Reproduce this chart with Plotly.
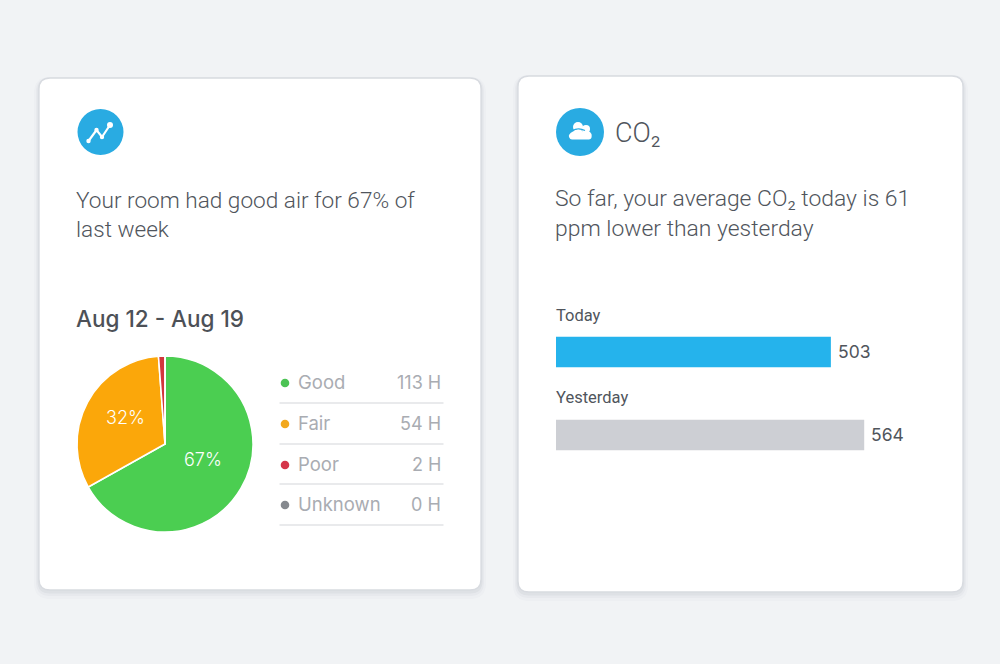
import plotly.graph_objects as go

W, H = 1000, 664
BG = "#f1f3f5"
FONT = "Inter, Roboto, sans-serif"
BODY_FONT = "Roboto, Inter, sans-serif"
TEXT = "#50555c"

# Data
pie_labels = ["Good", "Fair", "Poor", "Unknown"]
pie_hours = [113, 54, 2, 0]
pie_colors = ["#4bce51", "#fba70a", "#d2363c", "#868b90"]
legend_hours = ["113 H", "54 H", "2 H", "0 H"]
legend_dots = ["#4cc354", "#f2a81d", "#d5354a", "#85898e"]
bar_labels = ["Today", "Yesterday"]
bar_values = [503, 564]
bar_colors = ["#25b3ec", "#cdcfd4"]

def px(x): return x / W
def py(y): return 1 - y / H

def rrect(x0, y0, x1, y1, r):
    a, b, c, d = px(x0), px(x1), py(y0), py(y1)
    rx, ry = r / W, r / H
    return (f"M{a+rx},{c} L{b-rx},{c} Q{b},{c} {b},{c-ry} L{b},{d+ry} Q{b},{d} {b-rx},{d} "
            f"L{a+rx},{d} Q{a},{d} {a},{d+ry} L{a},{c-ry} Q{a},{c} {a+rx},{c} Z")

def poly(points, close=False):
    s = "M" + " L".join(f"{px(x)},{py(y)}" for x, y in points)
    return s + (" Z" if close else "")

shapes = []
def add_path(path, fill=None, line=None, width=0, opacity=1):
    shapes.append(dict(type="path", xref="paper", yref="paper", path=path, layer="below",
                       fillcolor=fill or "rgba(0,0,0,0)", opacity=opacity,
                       line=dict(color=line or "rgba(0,0,0,0)", width=width)))

def add_circle(cx, cy, r, fill):
    shapes.append(dict(type="circle", xref="paper", yref="paper", layer="below",
                       x0=px(cx - r), x1=px(cx + r), y0=py(cy + r), y1=py(cy - r),
                       fillcolor=fill, line=dict(width=0)))

# Cards with soft shadows
for (x0, y0, x1, y1) in [(39, 78, 481, 590), (518, 76, 963, 592)]:
    for grow, dy, op in [(5, 4, 0.02), (3, 3, 0.03), (1.5, 2, 0.05)]:
        add_path(rrect(x0 - grow, y0 - grow + dy, x1 + grow, y1 + grow + dy, 11 + grow), fill="#3c4a5a", opacity=op)
    add_path(rrect(x0, y0, x1, y1, 11), fill="#ffffff", line="#d8dbe0", width=1.3)

# Icons
add_circle(100.5, 132, 23, "#29abe2")
add_circle(580, 132, 24, "#29abe2")
add_path(poly([(88.5, 141), (96.5, 130), (102, 137), (110, 125)]), line="#ffffff", width=2.2)
for cx, cy, r in [(88.5, 141, 2.2), (96.5, 130, 2.2), (102, 137, 2.2), (110, 125, 3)]:
    add_circle(cx, cy, r, "#ffffff")
# Cloud icon
add_circle(578, 127, 5, "#ffffff")
add_circle(586, 129, 4, "#ffffff")
add_path(f"M{px(572)},{py(131)} Q{px(578)},{py(127)} {px(585)},{py(130.5)}", line="#29abe2", width=1.2)
add_path(f"M{px(572)},{py(139.5)} L{px(589)},{py(139.5)} Q{px(592.5)},{py(139)} {px(591.5)},{py(134)} "
         f"Q{px(590)},{py(130)} {px(584)},{py(132)} Q{px(578)},{py(128)} {px(573)},{py(131.5)} "
         f"Q{px(568)},{py(134)} {px(569)},{py(137)} Q{px(570)},{py(139.5)} {px(572)},{py(139.5)} Z", fill="#ffffff")

# Legend rules
rule_ys = [403, 444, 484, 525]
for y in rule_ys:
    add_path(poly([(279.5, y), (443.5, y)]), line="#e2e3e6", width=1.6)

# Legend dots
row_ys = [383, 424, 465, 505]
for y, c in zip(row_ys, legend_dots):
    add_circle(285, y, 4.3, c)

annotations = []
def note(x, y, text, size, color=TEXT, anchor="left", weight=300, family=FONT):
    annotations.append(dict(xref="paper", yref="paper", x=px(x), y=py(y), text=text, showarrow=False,
                            xanchor=anchor, yanchor="middle", align=anchor,
                            font=dict(family=family, size=size, color=color, weight=weight),
                            borderpad=0, borderwidth=0))

note(76, 214.5, "Your room had good air for 67% of<br>last week", 22.6, family=BODY_FONT)
note(555, 213.5, "So far, your average CO₂ today is 61<br>ppm lower than yesterday", 22.9, family=BODY_FONT)
note(615, 132.5, "CO₂", 27, family=BODY_FONT)
note(75.5, 318, "Aug 12 - Aug 19", 22.5, color="#4d5157", weight=500)
note(556, 315.5, bar_labels[0], 16.5, weight=400, family=BODY_FONT)
note(556, 397.5, bar_labels[1], 16.5, weight=400, family=BODY_FONT)
for y, label, hours in zip(row_ys, pie_labels, legend_hours):
    note(298, y - 1, label, 18.5, color="#a9acb2", weight=400)
    note(441, y - 1, hours, 18, color="#a9acb2", anchor="right", weight=400)

# Pie percentages, rounded from the hours
total = sum(pie_hours)
note(203, 460, f"{round(pie_hours[0] / total * 100)}%", 18, color="#ffffff", anchor="center", weight=300)
note(125, 417, f"{round(pie_hours[1] / total * 100)}%", 18, color="#ffffff", anchor="center", weight=300)

# Bar value labels, anchored to the data
for label, value in zip(bar_labels, bar_values):
    annotations.append(dict(xref="x", yref="y", x=value, y=label, text=str(value), showarrow=False,
                            xanchor="left", yanchor="middle", xshift=5, yshift=0,
                            font=dict(family=FONT, size=17.5, color=TEXT, weight=400)))

fig = go.Figure()
fig.add_trace(go.Pie(
    labels=pie_labels, values=pie_hours, sort=False, direction="clockwise", rotation=0,
    marker=dict(colors=pie_colors, line=dict(color="#ffffff", width=1.6)),
    textinfo="none",
    domain=dict(x=[px(77), px(253)], y=[py(532), py(356)]),
    showlegend=False, hoverinfo="label+value",
))
fig.add_trace(go.Bar(
    x=bar_values, y=bar_labels, orientation="h", width=0.365,
    marker=dict(color=bar_colors, line=dict(width=0)),
    showlegend=False,
))

fig.update_layout(
    width=W, height=H, autosize=False, margin=dict(l=0, r=0, t=0, b=0),
    paper_bgcolor=BG, plot_bgcolor="rgba(0,0,0,0)",
    shapes=shapes, annotations=annotations,
    xaxis=dict(domain=[px(556), px(964)], range=[0, 746.6], visible=False, fixedrange=True),
    yaxis=dict(domain=[py(476.5), py(310.5)], autorange="reversed", type="category",
               visible=False, fixedrange=True),
    font=dict(family=FONT),
)
fig.write_html("out.html", config=dict(displayModeBar=False),
               post_script="document.body.style.margin='0';document.body.style.background='%s';" % BG)
